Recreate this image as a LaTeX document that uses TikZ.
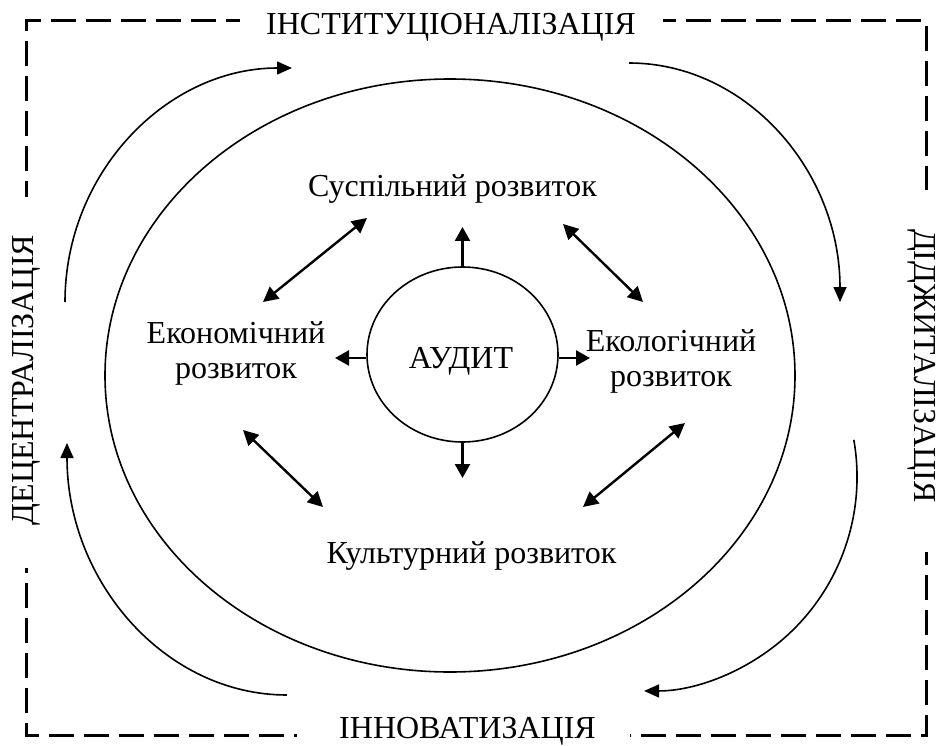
\documentclass[tikz,border=0pt]{standalone}
\usepackage{fontspec}
\setmainfont{Liberation Serif}
\usetikzlibrary{arrows.meta,shapes.geometric}
\begin{document}
\begin{tikzpicture}[x=1pt,y=-1pt,
  lbl/.style={font=\fontsize{32}{35}\selectfont, inner sep=0pt},
  frame/.style={line width=3pt, dash pattern=on 25pt off 10pt},
  ring/.style={draw, ellipse, line width=1.6pt, inner sep=0pt},
  flow/.style={line width=1.6pt, -{Triangle[length=15pt,width=13pt]}},
  link/.style={line width=2.4pt, {Triangle[length=15pt,width=15pt]}-{Triangle[length=15pt,width=15pt]}},
  spoke/.style={line width=2.4pt, -{Triangle[length=14pt,width=15pt]}},
]
\useasboundingbox (0,0) rectangle (940,746);

% dashed frame, broken where the side captions sit
\draw[frame, dash phase=9pt]  (26,197) -- (26,21) -- (240,21);
\draw[frame, dash phase=12pt] (663,21) -- (926,21) -- (926,190);
\draw[frame, dash phase=12pt] (926,552) -- (926,735) -- (630,735);
\draw[frame, dash phase=20pt] (26,568) -- (26,735) -- (297,735);

% side captions
\node[lbl, anchor=base] (instit) at (451,35) {ІНСТИТУЦІОНАЛІЗАЦІЯ};
\node[lbl, anchor=base] (innov) at (467.5,738.5) {ІННОВАТИЗАЦІЯ};
\node[lbl, anchor=base, rotate=90] (decentral) at (34,380) {ДЕЦЕНТРАЛІЗАЦІЯ};
\node[lbl, anchor=base, rotate=-90] (digital) at (914,366) {ДІДЖИТАЛІЗАЦІЯ};

% outer field and the central audit
\node[ring, minimum width=690pt, minimum height=593pt] (field) at (450,375.5) {};
\node[ring, minimum width=191pt, minimum height=175pt] (audit) at (462.5,354.5) {};
\node[lbl, anchor=base] (auditText) at (461,368) {АУДИТ};

% development areas
\node[lbl, anchor=base] (social) at (452.5,197) {Суспільний розвиток};
\node[lbl, align=center] (econ) at (236,353) {Економічний\\розвиток};
\node[lbl, align=center] (ecol) at (671,361) {Екологічний\\розвиток};
\node[lbl, anchor=base] (culture) at (471.5,563) {Культурний розвиток};

% spokes from the audit
\coordinate (upTip) at (462.5,227);
\coordinate (downTip) at (462.5,478);
\coordinate (leftTip) at (335,358);
\coordinate (rightTip) at (590,358);
\draw[spoke] (audit.north) -- (upTip);
\draw[spoke] (audit.south) -- (downTip);
\draw[spoke] (audit.west |- leftTip) -- (leftTip);
\draw[spoke] (audit.east |- rightTip) -- (rightTip);

% mutual links between the areas
\coordinate (es1) at (263,302);  \coordinate (es2) at (367,218);
\coordinate (se1) at (563,224);  \coordinate (se2) at (643,302);
\coordinate (ec1) at (243,430);  \coordinate (ec2) at (323,507);
\coordinate (lc1) at (685,423);  \coordinate (lc2) at (583,507);
\draw[link] (es1) -- (es2);
\draw[link] (se1) -- (se2);
\draw[link] (ec1) -- (ec2);
\draw[link] (lc1) -- (lc2);

% clockwise cycle around the field
\coordinate (tlStart) at (65,302);
\coordinate (trStart) at (629,63);
\coordinate (brStart) at (853.8,439.8);
\coordinate (blStart) at (287,695);
\draw[flow] (tlStart) arc[start angle=180, end angle=270, x radius=227, y radius=234];
\draw[flow] (trStart) arc[start angle=270, end angle=360, x radius=211, y radius=239];
\draw[flow] (brStart) arc[start angle=-10, end angle=90, x radius=213, y radius=214];
\draw[flow] (blStart) arc[start angle=90, end angle=180, x radius=220, y radius=252];
\end{tikzpicture}
\end{document}
